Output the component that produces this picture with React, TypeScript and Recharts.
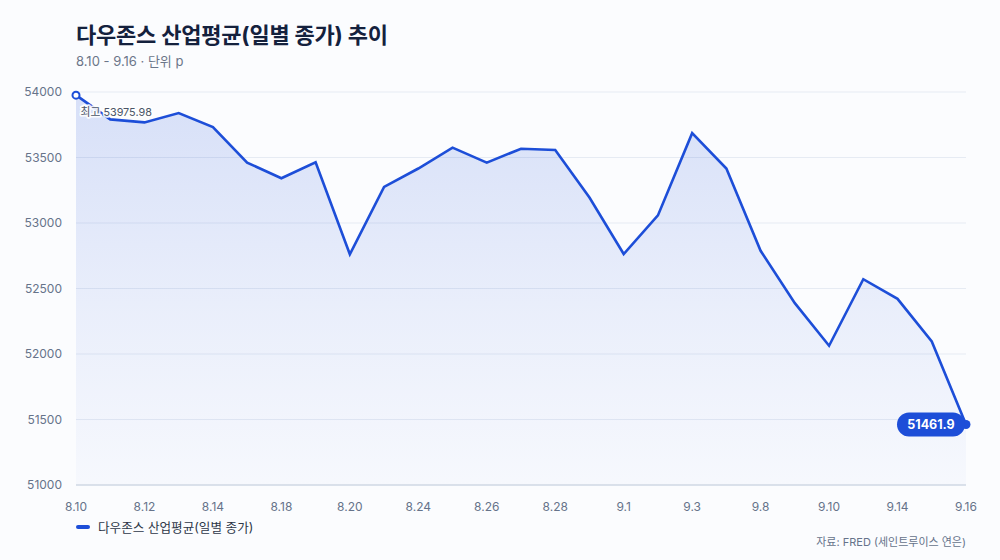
import React from 'react';
import { ComposedChart, Area, Line, XAxis, YAxis, CartesianGrid } from 'recharts';

const dates = ['8.10','8.11','8.12','8.13','8.14','8.17','8.18','8.19','8.20','8.21','8.24','8.25','8.26','8.27','8.28','8.31','9.1','9.2','9.3','9.4','9.8','9.9','9.10','9.11','9.14','9.15','9.16'];
const closes = [53975.98,53791,53768,53839,53732,53461,53342,53463,52761,53275,53416,53575,53461,53567,53557,53195,52763,53058,53686,53416,52788,52388,52063,52571,52421,52096,51461.9];
const yTicks = [51000,51500,52000,52500,53000,53500,54000];

const TITLE = '다우존스 산업평균(일별 종가) 추이';
const SUBTITLE = '8.10 - 9.16 · 단위 p';
const SERIES = '다우존스 산업평균(일별 종가)';
const SOURCE = '자료: FRED (세인트루이스 연은)';

const BLUE = '#1d4ed8';
const FONT = 'Inter, "Noto Sans CJK KR", "Noto Sans", sans-serif';

const data = dates.map((d, i) => ({ date: d, value: closes[i] }));
const maxIdx = closes.indexOf(Math.max(...closes));
const lastIdx = closes.length - 1;

const renderDot = (props: any) => {
  const { cx, cy, index } = props;
  if (index === maxIdx) {
    return (
      <g key={`d${index}`}>
        <circle cx={cx} cy={cy} r={3.5} fill="#fff" stroke={BLUE} strokeWidth={2} />
        <text x={cx + 4.5} y={cy + 20.5} fontSize={10.8} fill="#4a5568" fontFamily={FONT}
          stroke="rgba(255,255,255,0.9)" strokeWidth={3.5} paintOrder="stroke" strokeLinejoin="round">
          {`최고 ${closes[maxIdx]}`}
        </text>
      </g>
    );
  }
  if (index === lastIdx) {
    const label = String(closes[lastIdx]);
    const w = 68;
    return (
      <g key={`d${index}`}>
        <circle cx={cx} cy={cy} r={4.5} fill={BLUE} />
        <rect x={cx - w - 1} y={cy - 12} width={w} height={24} rx={12} fill={BLUE} />
        <text x={cx - w / 2 - 1} y={cy + 4.5} fontSize={12.5} fontWeight={700} fill="#fff" textAnchor="middle" fontFamily={FONT}>
          {label}
        </text>
      </g>
    );
  }
  return <g key={`d${index}`} />;
};

export default function App() {
  return (
    <div style={{ position: 'absolute', left: 0, top: 0, width: 1000, height: 560, background: '#fbfcfe', fontFamily: FONT, overflow: 'hidden' }}>
      <div style={{ position: 'absolute', left: 76, top: 17, fontSize: 22, fontWeight: 700, color: '#14213d', letterSpacing: -0.2, whiteSpace: 'nowrap' }}>{TITLE}</div>
      <div style={{ position: 'absolute', left: 76, top: 51, fontSize: 13, color: '#6b7689', whiteSpace: 'nowrap' }}>{SUBTITLE}</div>
      <ComposedChart width={1000} height={560} data={data} margin={{ top: 92, right: 34, bottom: 45, left: 0 }}>
        <defs>
          <linearGradient id="areaFill" x1="0" y1="0" x2="0" y2="1">
            <stop offset="0%" stopColor={BLUE} stopOpacity={0.27} />
            <stop offset="55%" stopColor={BLUE} stopOpacity={0.13} />
            <stop offset="100%" stopColor={BLUE} stopOpacity={0.035} />
          </linearGradient>
        </defs>
        <CartesianGrid vertical={false} stroke="#e6ebf3" strokeWidth={1} />
        <XAxis dataKey="date" interval={1} tickLine={false} tickSize={0} tickMargin={17} height={30}
          axisLine={{ stroke: '#d3dbe6', strokeWidth: 1.5 }}
          tick={{ fontSize: 12, fill: '#66738a', fontFamily: FONT }} />
        <YAxis domain={[51000, 54000]} ticks={yTicks} width={76} tickLine={false} axisLine={false} tickSize={0} tickMargin={14}
          tick={{ fontSize: 12, fill: '#66738a', fontFamily: FONT }} />
        <Area type="linear" dataKey="value" stroke="none" fill="url(#areaFill)" isAnimationActive={false} baseValue={51000} />
        <Line type="linear" dataKey="value" stroke={BLUE} strokeWidth={2.6} dot={renderDot} activeDot={false} isAnimationActive={false} />
      </ComposedChart>
      <div style={{ position: 'absolute', left: 76, top: 517, display: 'flex', alignItems: 'center', whiteSpace: 'nowrap' }}>
        <div style={{ width: 14, height: 4, borderRadius: 2, background: BLUE, marginRight: 8 }} />
        <span style={{ fontSize: 12.6, color: '#2d3748' }}>{SERIES}</span>
      </div>
      <div style={{ position: 'absolute', right: 34, top: 533, fontSize: 11, color: '#66738a', whiteSpace: 'nowrap' }}>{SOURCE}</div>
    </div>
  );
}
